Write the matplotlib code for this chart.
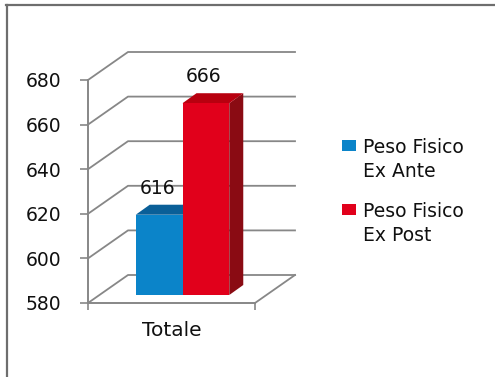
import matplotlib
matplotlib.use("Agg")
import numpy as np
import matplotlib.pyplot as plt
from matplotlib.patches import Polygon, Rectangle
from matplotlib.lines import Line2D
from matplotlib.transforms import offset_copy, IdentityTransform

# --- data -------------------------------------------------------------
categories = ["Totale"]
series_names = ["Peso Fisico\nEx Ante", "Peso Fisico\nEx Post"]
series_values = [616, 666]
y_ticks = [580, 600, 620, 640, 660, 680]

# --- style ------------------------------------------------------------
front_colors = ["#0B84C9", "#E1001B"]
top_colors = ["#0A5F98", "#B8000F"]
side_colors = ["#08507F", "#8A0B13"]
grid_color = "#878787"
text_color = "#101010"

W, H, DPI = 495, 377, 100
WALL = np.array([40.0, 28.0])       # depth of the back wall (pixels)
BAR_OFF = np.array([11.0, 8.0])     # bar front face offset from the front plane
BAR_DEPTH = np.array([14.0, 10.0])  # depth of each bar
BAR_W = 0.28

fig = plt.figure(figsize=(W / DPI, H / DPI), dpi=DPI)
ax = fig.add_axes([88 / W, (H - 303) / H, 167 / W, 223 / H])
ax.set_xlim(-0.5, 0.5)
ax.set_ylim(y_ticks[0], y_ticks[-1])
ax.patch.set_visible(False)
base = y_ticks[0]

for s in ("top", "right"):
    ax.spines[s].set_visible(False)
for s in ("left", "bottom"):
    ax.spines[s].set_color(grid_color)
    ax.spines[s].set_linewidth(1.4)

ax.set_yticks(y_ticks)
ax.tick_params(axis="y", length=6, width=1.2, color=grid_color, pad=13,
               labelsize=13.5, labelcolor=text_color)
ax.set_xticks([-0.5, 0.5], labels=["", ""])
ax.tick_params(axis="x", which="major", length=5, width=1.2, color=grid_color)
ax.set_xticks([0], labels=categories, minor=True)
ax.tick_params(axis="x", which="minor", length=0, pad=13, labelsize=14.5,
               labelcolor=text_color)


def disp(x, y):
    return ax.transData.transform((x, y))


ident = IdentityTransform()

# back wall grid lines with their diagonals on the side wall
for v in y_ticks:
    p0 = disp(-0.5, v)
    p1 = p0 + WALL
    p2 = disp(0.5, v) + WALL
    ax.add_line(Line2D([p0[0], p1[0], p2[0]], [p0[1], p1[1], p2[1]],
                       transform=ident, color=grid_color, lw=1.3,
                       clip_on=False, zorder=1))

# right edge of the floor
f0 = disp(0.5, base)
f1 = f0 + WALL
ax.add_line(Line2D([f0[0], f1[0]], [f0[1], f1[1]], transform=ident,
                   color=grid_color, lw=1.3, clip_on=False, zorder=1))

# bars: front faces through the data axes, top and side faces in depth
front_tr = offset_copy(ax.transData, fig, x=BAR_OFF[0], y=BAR_OFF[1], units="dots")
xs = [-BAR_W / 2, BAR_W / 2]
for i, (x, v) in enumerate(zip(xs, series_values)):
    xl, xr = x - BAR_W / 2, x + BAR_W / 2
    ftl = disp(xl, v) + BAR_OFF
    ftr = disp(xr, v) + BAR_OFF
    fbr = disp(xr, base) + BAR_OFF
    side = [ftr, ftr + BAR_DEPTH, fbr + BAR_DEPTH, fbr]
    top = [ftl, ftr, ftr + BAR_DEPTH, ftl + BAR_DEPTH]
    z = 3 + i * 3
    ax.add_patch(Polygon(side, closed=True, transform=ident, facecolor=side_colors[i],
                         edgecolor="none", clip_on=False, zorder=z))
    ax.add_patch(Polygon(top, closed=True, transform=ident, facecolor=top_colors[i],
                         edgecolor="none", clip_on=False, zorder=z + 1))
    ax.bar([x], [v - base], bottom=base, width=BAR_W, color=front_colors[i],
           transform=front_tr, clip_on=False, zorder=z + 2)

# value labels above the bars
label_tr = offset_copy(ax.transData, fig, x=BAR_OFF[0] - 2, y=BAR_OFF[1] + 17, units="dots")
for x, v in zip(xs, series_values):
    ax.text(x, v, f"{v}", transform=label_tr, ha="center", va="bottom",
            fontsize=13.5, color=text_color, zorder=10)

# legend: swatch next to the first line of each two-line entry
for i, name in enumerate(series_names):
    top_y = 140 + 64 * i
    fig.patches.append(Rectangle((342 / W, 1 - (top_y + 11) / H), 14 / W, 11 / H,
                                 transform=fig.transFigure, facecolor=front_colors[i],
                                 edgecolor="none"))
    fig.text(363 / W, 1 - (top_y - 2) / H, name, ha="left", va="top",
             fontsize=13.5, color=text_color, linespacing=1.32)

# outer frame
frame_kw = dict(transform=fig.transFigure, color="#6E6E6E", lw=1.6)
fig.add_artist(Line2D([6 / W, 1], [1 - 5 / H, 1 - 5 / H], **frame_kw))
fig.add_artist(Line2D([6.5 / W, 6.5 / W], [0, 1 - 5 / H], **frame_kw))

fig.savefig("out.png", dpi=DPI)
